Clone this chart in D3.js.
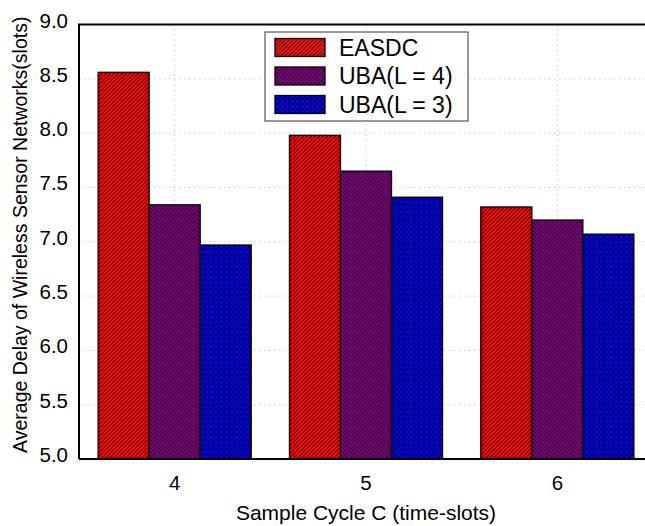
<!DOCTYPE html>
<html>
<head>
<meta charset="utf-8">
<script src="https://cdn.jsdelivr.net/npm/d3@7"></script>
<style>
  body { margin: 0; background: #fff; }
  text { font-family: Arial, "Liberation Sans", sans-serif; }
</style>
</head>
<body>
<div id="chart"></div>
<script>
// chart data
var cycles = [4, 5, 6];
var seriesNames = ["EASDC", "UBA(L = 4)", "UBA(L = 3)"];
var easdc = [8.56, 7.98, 7.32];
var uba4 = [7.34, 7.65, 7.20];
var uba3 = [6.97, 7.41, 7.07];
var yTicks = [5.0, 5.5, 6.0, 6.5, 7.0, 7.5, 8.0, 8.5, 9.0];

var W = 645, H = 526;
var margin = {left: 79, top: 24.5, right: -8, bottom: 67};
var width = W - margin.left - margin.right, height = H - margin.top - margin.bottom;

var svg = d3.select("#chart").append("svg")
    .attr("width", W).attr("height", H);

// hatch patterns
var defs = svg.append("defs");
function hatch(id, bg, d, size) {
    var p = defs.append("pattern").attr("id", id)
        .attr("patternUnits", "userSpaceOnUse")
        .attr("width", size).attr("height", size);
    p.append("rect").attr("width", size).attr("height", size).attr("fill", bg);
    p.append("path").attr("d", d).attr("stroke", "#000").attr("stroke-width", 1).attr("fill", "none");
}
hatch("p0", "#ff0000", "M-1,1 l2,-2 M0,4 l4,-4 M3,5 l2,-2", 4);
hatch("p1", "#800080", "M-1,3 l2,2 M0,0 l4,4 M3,-1 l2,2", 4);
var pb = defs.append("pattern").attr("id", "p2")
    .attr("patternUnits", "userSpaceOnUse").attr("width", 5).attr("height", 5);
pb.append("rect").attr("width", 5).attr("height", 5).attr("fill", "#000");
pb.append("circle").attr("cx", 2.5).attr("cy", 2.5).attr("r", 2).attr("fill", "#0000ff");
[[0, 0], [5, 0], [0, 5], [5, 5]].forEach(function(c) {
    pb.append("circle").attr("cx", c[0]).attr("cy", c[1]).attr("r", 1.2).attr("fill", "#0000ff");
});

var g = svg.append("g").attr("transform", "translate(" + margin.left + "," + margin.top + ")");

var x = d3.scaleLinear().domain([3.5, 6.5]).range([0, width]);
var y = d3.scaleLinear().domain([5, 9]).range([height, 0]);
var groupW = 0.8, barW = groupW / 3;

// grid
g.append("g").selectAll("line").data(yTicks.slice(1, -1)).enter().append("line")
    .attr("x1", 0).attr("x2", width)
    .attr("y1", function(d) { return y(d); }).attr("y2", function(d) { return y(d); })
    .attr("stroke", "#c8c8c8").attr("stroke-dasharray", "1.5,3.5");
g.append("g").selectAll("line").data(cycles).enter().append("line")
    .attr("y1", 0).attr("y2", height)
    .attr("x1", function(d) { return x(d); }).attr("x2", function(d) { return x(d); })
    .attr("stroke", "#c8c8c8").attr("stroke-dasharray", "1.5,3.5");

// bars
var series = [easdc, uba4, uba3];
series.forEach(function(vals, si) {
    g.append("g").selectAll("rect").data(vals).enter().append("rect")
        .attr("x", function(d, i) { return x(cycles[i] - groupW / 2 + si * barW); })
        .attr("width", x(barW) - x(0))
        .attr("y", function(d) { return y(d); })
        .attr("height", function(d) { return y(5) - y(d); })
        .attr("fill", "url(#p" + si + ")")
        .attr("stroke", "#000").attr("stroke-width", 1.3);
});

// frame
g.append("path")
    .attr("d", "M0," + height + "V0H" + width)
    .attr("fill", "none").attr("stroke", "#000").attr("stroke-width", 2);
g.append("line").attr("x1", 0).attr("x2", width).attr("y1", height).attr("y2", height)
    .attr("stroke", "#000").attr("stroke-width", 2);

// axes labels
g.append("g").selectAll("text").data(yTicks).enter().append("text")
    .attr("x", -11).attr("y", function(d) { return y(d) + 3; })
    .attr("text-anchor", "end").attr("font-size", 20.5)
    .text(function(d) { return d3.format(".1f")(d); });
g.append("g").selectAll("text").data(cycles).enter().append("text")
    .attr("x", function(d) { return x(d); }).attr("y", height + 31)
    .attr("text-anchor", "middle").attr("font-size", 20.5)
    .text(function(d) { return d; });
svg.append("text")
    .attr("x", 366).attr("y", 520)
    .attr("text-anchor", "middle").attr("font-size", 21)
    .text("Sample Cycle C (time-slots)");
svg.append("text")
    .attr("transform", "translate(27," + (margin.top + height / 2 - 7) + ") rotate(-90)")
    .attr("text-anchor", "middle").attr("font-size", 19.5)
    .text("Average Delay of Wireless Sensor Networks(slots)");

// legend
var leg = svg.append("g").attr("transform", "translate(265,32)");
leg.append("rect").attr("width", 203).attr("height", 89)
    .attr("fill", "#fff").attr("stroke", "#333").attr("stroke-width", 1);
seriesNames.forEach(function(name, i) {
    var row = leg.append("g").attr("transform", "translate(0," + (i * 28.5) + ")");
    row.append("rect").attr("x", 10).attr("y", 6.5).attr("width", 50).attr("height", 18)
        .attr("fill", "url(#p" + i + ")").attr("stroke", "#000").attr("stroke-width", 1.3);
    row.append("text").attr("x", 74).attr("y", 23.5).attr("font-size", 23).text(name);
});
</script>
</body>
</html>
